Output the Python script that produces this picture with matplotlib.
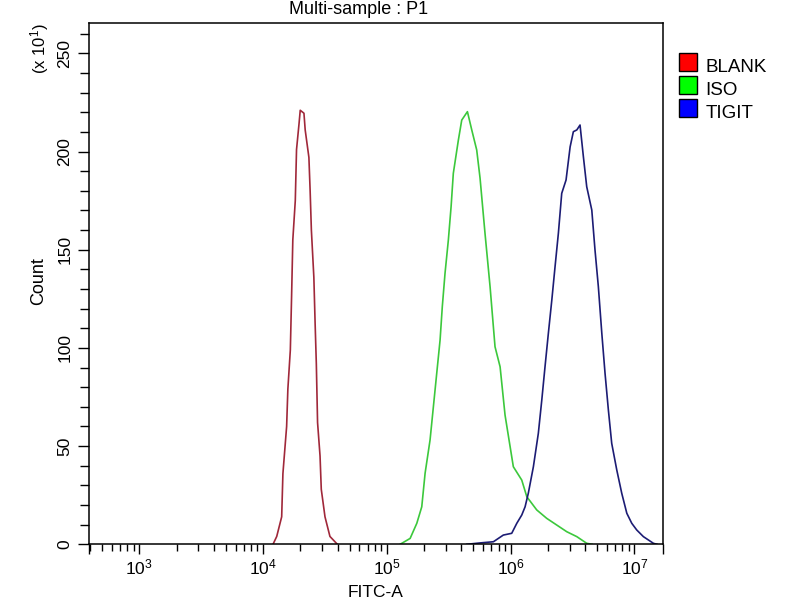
import matplotlib
matplotlib.use('Agg')
import matplotlib.pyplot as plt
from matplotlib.patches import Rectangle
from matplotlib.ticker import LogLocator, NullFormatter, MultipleLocator
import numpy as np

plt.rcParams['font.family'] = ['Liberation Sans', 'DejaVu Sans']
plt.rcParams['mathtext.fontset'] = 'custom'
plt.rcParams['mathtext.rm'] = 'Liberation Sans'

# legend entries
samples = ['BLANK', 'ISO', 'TIGIT']
fill_colors = ['#ff0000', '#00ff00', '#0000ff']
line_colors = ['#a0283a', '#3cc83c', '#1c1c74']

# histograms: log10(FITC-A) and count (x 10^1)
blank_logx = [4.08, 4.11, 4.15, 4.16, 4.19, 4.20, 4.22, 4.23, 4.24, 4.26, 4.27, 4.29, 4.30,
              4.33, 4.34, 4.37, 4.38, 4.39, 4.41, 4.42, 4.43, 4.44, 4.46, 4.47, 4.50, 4.54, 4.60]
blank_count = [0, 4, 14, 36, 60, 79, 99, 126, 155, 175, 201, 214, 221,
               219.5, 211, 197, 180, 160, 136, 113, 92, 62, 45, 28, 14, 4, 0]

iso_logx = [5.107, 5.188, 5.242, 5.282, 5.309, 5.349, 5.376, 5.403, 5.430, 5.448, 5.470, 5.497,
            5.519, 5.537, 5.578, 5.605, 5.651, 5.686, 5.726, 5.753, 5.793, 5.834, 5.874, 5.915,
            5.955, 6.022, 6.090, 6.131, 6.211, 6.292, 6.373, 6.454, 6.535, 6.615, 6.658]
iso_count = [0, 3, 10.7, 19.1, 36.2, 53.1, 70.1, 87.1, 104.0, 121.0, 138.0, 155.0,
             171.9, 188.9, 205.9, 216.0, 220.3, 211.0, 200.8, 186.5, 158.4, 131.2, 100.6, 90.4,
             65.8, 39.5, 32.7, 24.2, 17.5, 13.2, 9.8, 6.4, 3.9, 0.5, 0]

tigit_logx = [5.646, 5.753, 5.861, 5.941, 6.009, 6.050, 6.090, 6.117, 6.143, 6.184, 6.224, 6.252,
              6.278, 6.305, 6.333, 6.359, 6.386, 6.413, 6.448, 6.481, 6.507, 6.535, 6.561, 6.588,
              6.615, 6.656, 6.682, 6.709, 6.737, 6.763, 6.790, 6.817, 6.858, 6.898, 6.939, 6.979,
              7.019, 7.073, 7.154, 7.183]
tigit_count = [0, 0.7, 1.3, 4.7, 5.6, 10.7, 14.9, 19.1, 26.0, 39.5, 56.5, 73.5,
               90.4, 107.4, 124.4, 141.3, 158.4, 178.7, 185.5, 202.4, 210.1, 211.0, 213.5, 197.4,
               182.1, 170.2, 149.8, 131.2, 107.4, 87.1, 68.4, 51.4, 37.8, 26.0, 15.8, 10.7,
               7.3, 3.9, 0.5, 0]

decades = [3, 4, 5, 6, 7]
y_major = [0, 50, 100, 150, 200, 250]
x_lo, x_hi = 10 ** 2.593, 10 ** 7.229
y_hi = 265.6

fig = plt.figure(figsize=(8, 6), dpi=100)
ax = fig.add_axes([89 / 800, 1 - 544.3 / 600, (662.7 - 89) / 800, (544.3 - 22.7) / 600])

series = [(blank_logx, blank_count), (iso_logx, iso_count), (tigit_logx, tigit_count)]
for (lx, cnt), col in zip(series, line_colors):
    ax.plot(10 ** np.array(lx), cnt, color=col, lw=1.2)

ax.set_xscale('log')
ax.set_xlim(x_lo, x_hi)
ax.set_ylim(0, y_hi)

ax.set_xticks([x_lo] + [10.0 ** d for d in decades] + [x_hi])
ax.set_xticklabels([''] + [r'$\mathregular{10^{%d}}$' % d for d in decades] + [''])
ax.xaxis.set_minor_locator(LogLocator(base=10, subs=np.arange(2, 10), numticks=30))
ax.xaxis.set_minor_formatter(NullFormatter())

ax.set_yticks(y_major)
ax.yaxis.set_minor_locator(MultipleLocator(10))

for s in ax.spines.values():
    s.set_linewidth(1.1)

ax.tick_params(axis='x', which='major', direction='out', length=7.2, width=1.0,
               labelsize=12.5, pad=2)
ax.tick_params(axis='x', which='minor', direction='out', length=5, width=1.0)
ax.tick_params(axis='y', which='major', direction='out', length=8, width=1.0,
               labelsize=12.5, labelrotation=90, pad=4)
ax.tick_params(axis='y', which='minor', direction='out', length=6.5, width=1.0)
for lab in ax.get_yticklabels():
    lab.set_va('center')

fig.text(289 / 800, 1 - 14 / 600, 'Multi-sample : P1', fontsize=13,
         ha='left', va='baseline')
fig.text(39 / 800, 1 - 281 / 600, 'Count', fontsize=13, rotation=90,
         ha='center', va='center')
fig.text(40 / 800, 1 - 49 / 600, r'(x 10$\mathregular{^{1}}$)', fontsize=12, rotation=90,
         ha='center', va='center')
fig.text(376 / 800, 1 - 597 / 600, 'FITC-A', fontsize=12.5, ha='center', va='baseline')

# legend boxes at the right
for i, (name, fc) in enumerate(zip(samples, fill_colors)):
    top = 53.3 + 23 * i
    fig.add_artist(Rectangle((679 / 800, 1 - (top + 17.5) / 600), 17.5 / 800, 17.5 / 600,
                             transform=fig.transFigure, facecolor=fc,
                             edgecolor='black', lw=1.0))
    fig.text(705.7 / 800, 1 - (top + 19) / 600, name, fontsize=13.5,
             ha='left', va='baseline')

fig.savefig('out.png', dpi=100)
